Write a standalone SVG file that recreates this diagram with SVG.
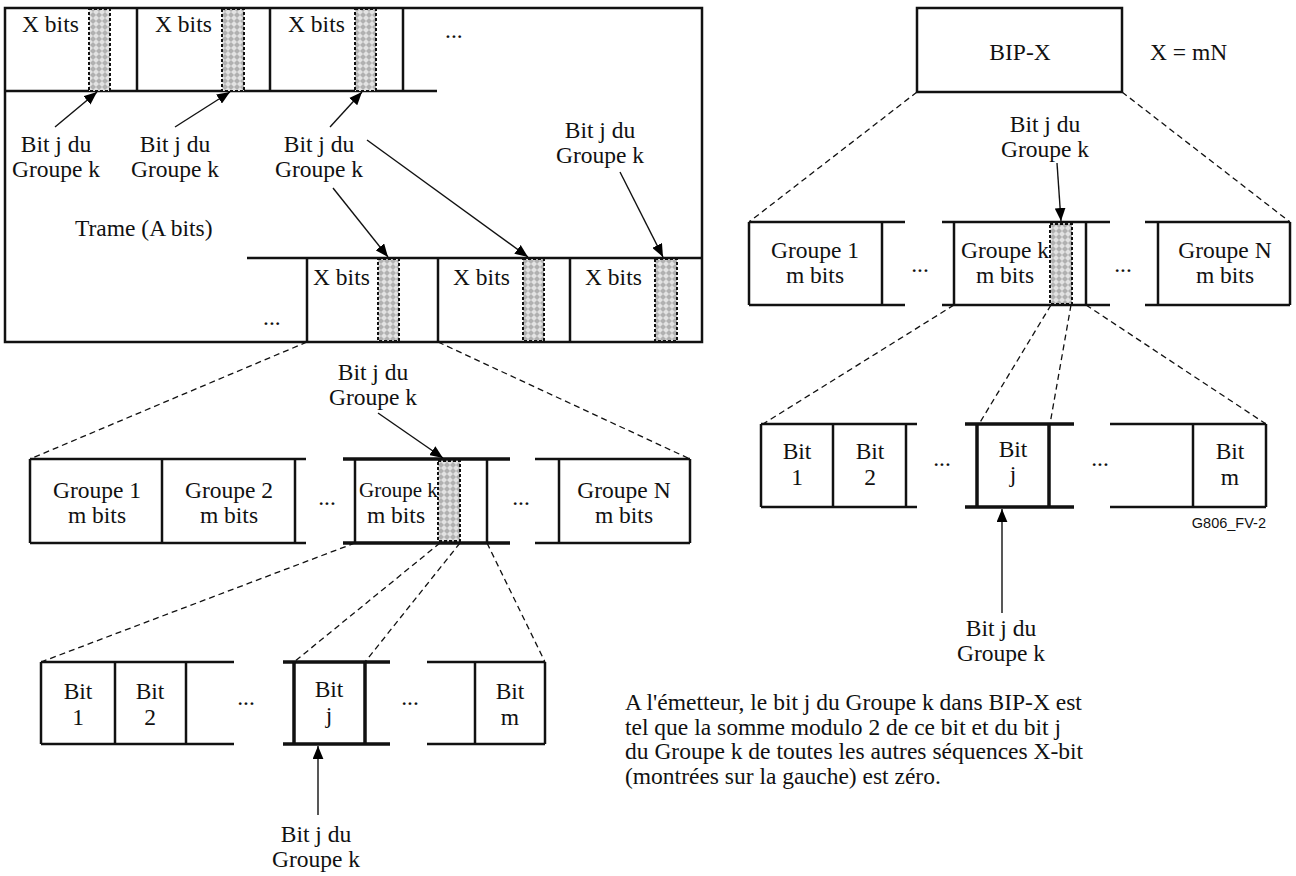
<svg xmlns="http://www.w3.org/2000/svg" width="1296" height="876" viewBox="0 0 1296 876">
<defs>
<pattern id="hatch" width="6" height="6" patternUnits="userSpaceOnUse">
<rect width="6" height="6" fill="#e2e2e2"/>
<path d="M3,0 L6,3 L3,6 L0,3 z" fill="#b0b0b0"/>
</pattern>
<marker id="ah" viewBox="0 0 12 10" refX="12" refY="5" markerWidth="13" markerHeight="11" orient="auto" markerUnits="userSpaceOnUse">
<path d="M0,0 L12,5 L0,10 z" fill="#000"/>
</marker>
<style>
.t{font-family:"Liberation Serif","Times New Roman",serif;font-size:23.5px;fill:#111}
.m{text-anchor:middle}
.b{stroke:#111;stroke-width:2.5;fill:none}
.bt{stroke:#111;stroke-width:3.5;fill:none}
.h{fill:url(#hatch);stroke:#111;stroke-width:2;stroke-dasharray:3 2}
.d{stroke:#111;stroke-width:1.3;stroke-dasharray:6 4;fill:none}
.a{stroke:#111;stroke-width:1.4;fill:none;marker-end:url(#ah)}
</style>
</defs>
<rect width="1296" height="876" fill="#fff"/>

<g id="frame">
<rect class="b" x="5" y="8" width="697" height="334"/>
<line class="b" x1="5" y1="91" x2="437" y2="91"/>
<line class="b" x1="137" y1="8" x2="137" y2="91"/>
<line class="b" x1="270" y1="8" x2="270" y2="91"/>
<line class="b" x1="403" y1="8" x2="403" y2="91"/>
<rect class="h" x="89" y="9" width="21" height="82"/>
<rect class="h" x="222" y="9" width="22" height="82"/>
<rect class="h" x="355" y="9" width="21" height="82"/>
<text class="t" x="22" y="32">X bits</text>
<text class="t" x="155" y="32">X bits</text>
<text class="t" x="288" y="32">X bits</text>
<text class="t" x="445" y="38">...</text>
<line class="b" x1="247" y1="258" x2="702" y2="258"/>
<line class="b" x1="307" y1="258" x2="307" y2="342"/>
<line class="b" x1="438" y1="258" x2="438" y2="342"/>
<line class="b" x1="570" y1="258" x2="570" y2="342"/>
<rect class="h" x="378" y="259" width="21" height="82"/>
<rect class="h" x="523" y="259" width="21" height="82"/>
<rect class="h" x="655" y="259" width="22" height="82"/>
<text class="t" x="313" y="285">X bits</text>
<text class="t" x="453" y="285">X bits</text>
<text class="t" x="585" y="285">X bits</text>
<text class="t" x="263" y="325">...</text>
<text class="t" x="75" y="236">Trame (A bits)</text>
</g>

<g id="labels-frame">
<text class="t m" x="56" y="152">Bit j du</text>
<text class="t m" x="56" y="177">Groupe k</text>
<text class="t m" x="175" y="152">Bit j du</text>
<text class="t m" x="175" y="177">Groupe k</text>
<text class="t m" x="319" y="152">Bit j du</text>
<text class="t m" x="319" y="177">Groupe k</text>
<text class="t m" x="600" y="138">Bit j du</text>
<text class="t m" x="600" y="163">Groupe k</text>
</g>

<g id="groups-left">
<line class="b" x1="30" y1="459" x2="306" y2="459"/>
<line class="b" x1="30" y1="543" x2="306" y2="543"/>
<line class="b" x1="30" y1="459" x2="30" y2="543"/>
<line class="b" x1="162" y1="459" x2="162" y2="543"/>
<line class="b" x1="295" y1="459" x2="295" y2="543"/>
<text class="t m" x="97" y="498">Groupe 1</text>
<text class="t m" x="97" y="523">m bits</text>
<text class="t m" x="229" y="498">Groupe 2</text>
<text class="t m" x="229" y="523">m bits</text>
<text class="t m" x="327" y="505">...</text>
<line class="bt" x1="343" y1="459" x2="510" y2="459"/>
<line class="bt" x1="343" y1="543" x2="510" y2="543"/>
<line class="b" x1="355" y1="459" x2="355" y2="543"/>
<line class="b" x1="487" y1="459" x2="487" y2="543"/>
<rect class="h" x="438" y="461" width="22" height="80"/>
<text class="t" x="359" y="497" style="font-size:21px">Groupe k</text>
<text class="t m" x="396" y="523">m bits</text>
<text class="t m" x="521" y="505">...</text>
<line class="b" x1="535" y1="459" x2="690" y2="459"/>
<line class="b" x1="535" y1="543" x2="690" y2="543"/>
<line class="b" x1="559" y1="459" x2="559" y2="543"/>
<line class="b" x1="690" y1="459" x2="690" y2="543"/>
<text class="t m" x="624" y="498">Groupe N</text>
<text class="t m" x="624" y="523">m bits</text>
<text class="t m" x="373" y="380">Bit j du</text>
<text class="t m" x="373" y="405">Groupe k</text>
</g>

<g id="bits-left">
<line class="b" x1="41" y1="662" x2="234" y2="662"/>
<line class="b" x1="41" y1="744" x2="234" y2="744"/>
<line class="b" x1="41" y1="662" x2="41" y2="744"/>
<line class="b" x1="115" y1="662" x2="115" y2="744"/>
<line class="b" x1="186" y1="662" x2="186" y2="744"/>
<text class="t m" x="78" y="699">Bit</text>
<text class="t m" x="78" y="725">1</text>
<text class="t m" x="150" y="699">Bit</text>
<text class="t m" x="150" y="725">2</text>
<text class="t m" x="246" y="705">...</text>
<line class="bt" x1="283" y1="662" x2="390" y2="662"/>
<line class="bt" x1="283" y1="744" x2="390" y2="744"/>
<line class="bt" x1="294" y1="662" x2="294" y2="744"/>
<line class="bt" x1="365" y1="662" x2="365" y2="744"/>
<text class="t m" x="329" y="697">Bit</text>
<text class="t m" x="329" y="723">j</text>
<text class="t m" x="410" y="705">...</text>
<line class="b" x1="427" y1="662" x2="545" y2="662"/>
<line class="b" x1="427" y1="744" x2="545" y2="744"/>
<line class="b" x1="475" y1="662" x2="475" y2="744"/>
<line class="b" x1="545" y1="662" x2="545" y2="744"/>
<text class="t m" x="510" y="699">Bit</text>
<text class="t m" x="510" y="725">m</text>
<text class="t m" x="316" y="842">Bit j du</text>
<text class="t m" x="316" y="867">Groupe k</text>
</g>

<g id="bip">
<rect class="b" x="917" y="8" width="205" height="84"/>
<text class="t m" x="1020" y="60">BIP-X</text>
<text class="t" x="1150" y="60">X = mN</text>
</g>

<g id="groups-right">
<text class="t m" x="1045" y="132">Bit j du</text>
<text class="t m" x="1045" y="157">Groupe k</text>
<line class="b" x1="749" y1="222" x2="905" y2="222"/>
<line class="b" x1="749" y1="305" x2="905" y2="305"/>
<line class="b" x1="749" y1="222" x2="749" y2="305"/>
<line class="b" x1="882" y1="222" x2="882" y2="305"/>
<text class="t m" x="815" y="258">Groupe 1</text>
<text class="t m" x="815" y="283">m bits</text>
<text class="t m" x="920" y="272">...</text>
<line class="b" x1="942" y1="222" x2="1110" y2="222"/>
<line class="b" x1="942" y1="305" x2="1110" y2="305"/>
<line class="b" x1="954" y1="222" x2="954" y2="305"/>
<line class="b" x1="1086" y1="222" x2="1086" y2="305"/>
<rect class="h" x="1050" y="224" width="22" height="80"/>
<text class="t" x="961" y="258">Groupe k</text>
<text class="t m" x="1005" y="283">m bits</text>
<text class="t m" x="1123" y="272">...</text>
<line class="b" x1="1145" y1="222" x2="1290" y2="222"/>
<line class="b" x1="1145" y1="305" x2="1290" y2="305"/>
<line class="b" x1="1158" y1="222" x2="1158" y2="305"/>
<line class="b" x1="1290" y1="222" x2="1290" y2="305"/>
<text class="t m" x="1225" y="258">Groupe N</text>
<text class="t m" x="1225" y="283">m bits</text>
</g>

<g id="bits-right">
<line class="b" x1="761" y1="424" x2="917" y2="424"/>
<line class="b" x1="761" y1="507" x2="917" y2="507"/>
<line class="b" x1="761" y1="424" x2="761" y2="507"/>
<line class="b" x1="833" y1="424" x2="833" y2="507"/>
<line class="b" x1="906" y1="424" x2="906" y2="507"/>
<text class="t m" x="797" y="459">Bit</text>
<text class="t m" x="797" y="485">1</text>
<text class="t m" x="870" y="459">Bit</text>
<text class="t m" x="870" y="485">2</text>
<text class="t m" x="942" y="466">...</text>
<line class="bt" x1="965" y1="424" x2="1074" y2="424"/>
<line class="bt" x1="965" y1="507" x2="1074" y2="507"/>
<line class="bt" x1="977" y1="424" x2="977" y2="507"/>
<line class="bt" x1="1049" y1="424" x2="1049" y2="507"/>
<text class="t m" x="1013" y="457">Bit</text>
<text class="t m" x="1013" y="482">j</text>
<text class="t m" x="1100" y="466">...</text>
<line class="b" x1="1110" y1="424" x2="1266" y2="424"/>
<line class="b" x1="1110" y1="507" x2="1266" y2="507"/>
<line class="b" x1="1193" y1="424" x2="1193" y2="507"/>
<line class="b" x1="1266" y1="424" x2="1266" y2="507"/>
<text class="t m" x="1230" y="459">Bit</text>
<text class="t m" x="1230" y="485">m</text>
<text x="1266" y="528" style="font-family:'Liberation Sans',Arial,sans-serif;font-size:14.5px;text-anchor:end;fill:#111">G806_FV-2</text>
<text class="t m" x="1001" y="636">Bit j du</text>
<text class="t m" x="1001" y="661">Groupe k</text>
</g>

<g id="note">
<text class="t" x="625" y="710">A l'émetteur, le bit j du Groupe k dans BIP-X est</text>
<text class="t" x="625" y="734.5">tel que la somme modulo 2 de ce bit et du bit j</text>
<text class="t" x="625" y="759">du Groupe k de toutes les autres séquences X-bit</text>
<text class="t" x="625" y="783.5">(montrées sur la gauche) est zéro.</text>
</g>

<g id="connectors">
<line class="a" x1="55" y1="127" x2="97" y2="92"/>
<line class="a" x1="175" y1="127" x2="230" y2="92"/>
<line class="a" x1="330" y1="127" x2="362" y2="92"/>
<line class="a" x1="333" y1="188" x2="388" y2="257"/>
<line class="a" x1="367" y1="140" x2="528" y2="257"/>
<line class="a" x1="620" y1="172" x2="663" y2="257"/>
<line class="d" x1="307" y1="342" x2="30" y2="459"/>
<line class="d" x1="438" y1="342" x2="690" y2="459"/>
<line class="a" x1="378" y1="413" x2="443" y2="458"/>
<line class="d" x1="355" y1="543" x2="41" y2="662"/>
<line class="d" x1="440" y1="543" x2="294" y2="662"/>
<line class="d" x1="460" y1="543" x2="365" y2="662"/>
<line class="d" x1="487" y1="543" x2="545" y2="662"/>
<line class="a" x1="318" y1="815" x2="318" y2="746"/>
<line class="d" x1="917" y1="92" x2="749" y2="222"/>
<line class="d" x1="1122" y1="92" x2="1290" y2="222"/>
<line class="a" x1="1057" y1="163" x2="1061" y2="221"/>
<line class="d" x1="954" y1="305" x2="763" y2="424"/>
<line class="d" x1="1051" y1="305" x2="979" y2="424"/>
<line class="d" x1="1071" y1="305" x2="1050" y2="424"/>
<line class="d" x1="1086" y1="305" x2="1266" y2="424"/>
<line class="a" x1="1002" y1="613" x2="1002" y2="509"/>
</g>
</svg>
